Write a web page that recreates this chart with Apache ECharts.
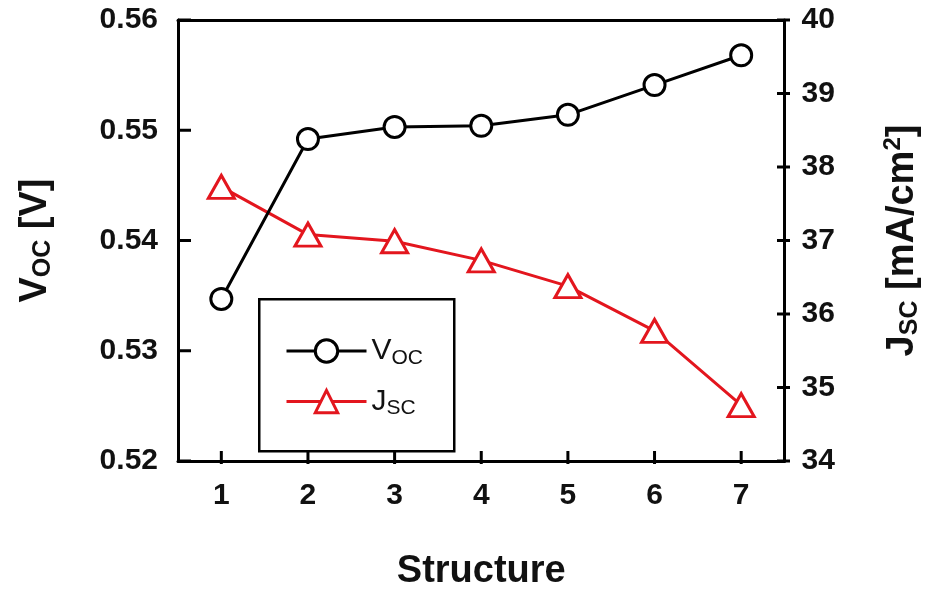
<!DOCTYPE html>
<html>
<head>
<meta charset="utf-8">
<script src="https://cdn.jsdelivr.net/npm/echarts@6/dist/echarts.min.js"></script>
<style>html,body{margin:0;padding:0;background:#fff}#c{width:931px;height:596px}</style>
</head>
<body>
<div id="c"></div>
<script>
const categories = ['1', '2', '3', '4', '5', '6', '7'];
const vocValues = [0.5347, 0.5492, 0.5503, 0.5504, 0.5514, 0.5541, 0.5568];
const jscValues = [37.73, 37.08, 36.99, 36.73, 36.38, 35.77, 34.76];
const vocTicks = [0.52, 0.53, 0.54, 0.55, 0.56];
const jscTicks = [34, 35, 36, 37, 38, 39, 40];

const FONT = 'Arial, "Liberation Sans", sans-serif';
const RED = '#e3161e';
const TICK_LEN = 13;
const GRID = { left: 178, right: 141, top: 20, bottom: 132 };
const W = 931, H = 596;
const chart = echarts.init(document.getElementById('c'));

const tickLabel = { fontFamily: FONT, fontSize: 30, fontWeight: 'bold', color: '#111' };
const nameRich = {
  b: { fontFamily: FONT, fontSize: 38, fontWeight: 'bold', color: '#111' },
  s: { fontFamily: FONT, fontSize: 25, fontWeight: 'bold', color: '#111', padding: [16, 0, 0, 0] },
  p: { fontFamily: FONT, fontSize: 24, fontWeight: 'bold', color: '#111', padding: [0, 0, 18, 0] }
};
const axisLine = { show: true, onZero: false, lineStyle: { color: '#000', width: 3 } };
const none = { show: false };

const vMin = vocTicks[0], vMax = vocTicks[vocTicks.length - 1];
const jMin = jscTicks[0], jMax = jscTicks[jscTicks.length - 1];

const legendBox = {
  id: 'legendBox', type: 'rect', left: 258, top: 298, z: 10,
  shape: { width: 195, height: 152 },
  style: { fill: '#fff', stroke: '#000', lineWidth: 2.5 }
};

chart.setOption({
  animation: false,
  backgroundColor: '#fff',
  grid: Object.assign({ show: false }, GRID),
  graphic: [legendBox],
  legend: {
    orient: 'vertical', left: 280, top: 331, z: 20,
    itemWidth: 80, itemHeight: 28, itemGap: 18,
    data: ['VOC', 'JSC'],
    lineStyle: { width: 3 },
    itemStyle: { borderWidth: 3 },
    formatter: function (n) { return n === 'VOC' ? '{m|V}{s|OC}' : '{m|J}{s|SC}'; },
    textStyle: {
      rich: {
        m: { fontFamily: FONT, fontSize: 30, color: '#111' },
        s: { fontFamily: FONT, fontSize: 21, color: '#111', padding: [14, 0, 0, 0] }
      }
    }
  },
  xAxis: [{
    type: 'category', data: categories, boundaryGap: true, position: 'bottom',
    name: 'Structure', nameLocation: 'middle', nameGap: 92,
    nameTextStyle: { fontFamily: FONT, fontSize: 38, fontWeight: 'bold', color: '#111' },
    axisLine: axisLine, axisTick: none,
    axisLabel: Object.assign({ margin: 20 }, tickLabel),
    splitLine: none
  }, {
    type: 'category', data: categories, boundaryGap: true, position: 'top',
    axisLine: axisLine, axisTick: none, axisLabel: none, splitLine: none
  }],
  yAxis: [{
    type: 'value', position: 'left', min: vMin, max: vMax, interval: 0.01,
    name: '{b|V}{s|OC}{b| [V]}', nameLocation: 'middle', nameRotate: 90, nameGap: 122,
    nameTextStyle: { rich: nameRich },
    axisLine: axisLine, axisTick: none,
    axisLabel: Object.assign({ margin: 20, formatter: v => v.toFixed(2) }, tickLabel),
    splitLine: none
  }, {
    type: 'value', position: 'right', min: jMin, max: jMax, interval: 1,
    name: '{b|J}{s|SC}{b| [mA/cm}{p|2}{b|]}', nameLocation: 'middle', nameRotate: 90, nameGap: 97,
    nameTextStyle: { rich: nameRich },
    axisLine: axisLine, axisTick: none,
    axisLabel: Object.assign({ margin: 17 }, tickLabel),
    splitLine: none
  }],
  series: [{
    name: 'VOC', type: 'line', xAxisIndex: 0, yAxisIndex: 0, data: vocValues,
    symbol: 'circle', symbolSize: 21, z: 3,
    lineStyle: { color: '#000', width: 3 },
    itemStyle: { color: '#fff', borderColor: '#000', borderWidth: 3 }
  }, {
    name: 'JSC', type: 'line', xAxisIndex: 0, yAxisIndex: 1, data: jscValues,
    symbol: 'triangle', symbolSize: [26, 23], z: 2,
    lineStyle: { color: RED, width: 3 },
    itemStyle: { color: '#fff', borderColor: RED, borderWidth: 3 }
  }]
});

// inward tick marks, located through the axes' own scales
const xL = GRID.left, xR = W - GRID.right, yB = H - GRID.bottom;
const tickEls = [];
const tStyle = { stroke: '#000', lineWidth: 3 };
vocTicks.forEach(function (v, i) {
  const y = chart.convertToPixel({ yAxisIndex: 0 }, v);
  tickEls.push({ id: 'tl' + i, type: 'line', z: 5, shape: { x1: xL, y1: y, x2: xL + TICK_LEN, y2: y }, style: tStyle });
});
jscTicks.forEach(function (v, i) {
  const y = chart.convertToPixel({ yAxisIndex: 1 }, v);
  tickEls.push({ id: 'tr' + i, type: 'line', z: 5, shape: { x1: xR, y1: y, x2: xR - TICK_LEN, y2: y }, style: tStyle });
});
categories.forEach(function (c, i) {
  const x = chart.convertToPixel({ xAxisIndex: 0 }, c);
  tickEls.push({ id: 'tb' + i, type: 'line', z: 5, shape: { x1: x, y1: yB, x2: x, y2: yB - TICK_LEN }, style: tStyle });
});
chart.setOption({ graphic: [legendBox].concat(tickEls) });
</script>
</body>
</html>
